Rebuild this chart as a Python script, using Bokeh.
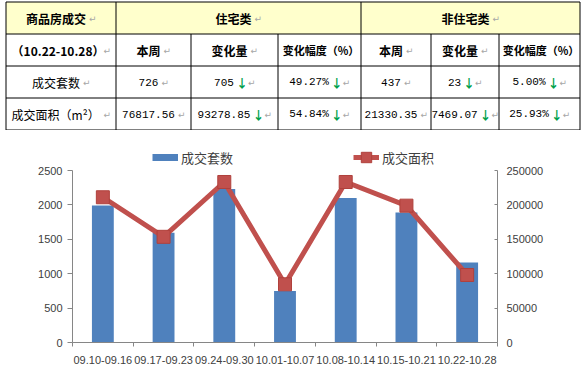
from bokeh.plotting import figure
from bokeh.models import (Range1d, LinearAxis, FixedTicker, BasicTickFormatter,
                          Legend, LegendItem, ColumnDataSource)
from bokeh.layouts import column
from bokeh.embed import file_html
from bokeh.resources import INLINE
from bokeh.core.properties import value

# ---------------- data ----------------
weeks = ["09.10-09.16", "09.17-09.23", "09.24-09.30", "10.01-10.07",
         "10.08-10.14", "10.15-10.21", "10.22-10.28"]
deal_count = [1990, 1594, 2232, 749, 2101, 1891, 1163]          # 成交套数
deal_area = [211100, 153600, 233300, 84600, 233300, 198896, 98148]  # 成交面积
count_ticks = [0, 500, 1000, 1500, 2000, 2500]
area_ticks = [0, 50000, 100000, 150000, 200000, 250000]

table_title = "商品房成交"
table_period = "（10.22-10.28）"
group_names = ["住宅类", "非住宅类"]
col_names = ["本周", "变化量", "变化幅度（%）"]
row_names = ["成交套数", "成交面积（m²）"]
res_week = [726, 76817.56]
res_change = [705, 93278.85]
res_pct = [49.27, 54.84]
nonres_week = [437, 21330.35]
nonres_change = [23, 7469.07]
nonres_pct = [5.00, 25.93]
res_down = [True, True]
nonres_down = [True, True]

# ---------------- table ----------------
W = 582
TH = 130
CH = 238
CJK = "Noto Sans CJK SC"
NUM = "Liberation Mono"

t = figure(width=W, height=TH, x_range=Range1d(0, W), y_range=Range1d(TH, 0),
           toolbar_location=None, output_backend="svg", min_border=0,
           x_axis_location=None, y_axis_location=None)
for g in t.grid:
    g.visible = False
t.outline_line_color = None

bx = [5.5, 115.5, 190.5, 277.5, 360.5, 430.5, 498.5, 579.5]
by = [1.5, 33.5, 65.5, 97.5, 129.5]

t.quad(left=[bx[0], bx[1], bx[4]], right=[bx[1], bx[4], bx[7]],
       top=[by[0]] * 3, bottom=[by[1]] * 3, fill_color="#FFFFCC", line_color=None)

hx0 = [bx[0]] * len(by)
hx1 = [bx[-1]] * len(by)
t.segment(x0=hx0, y0=by, x1=hx1, y1=by, line_color="black", line_width=1)
vxs = [bx[0], bx[1], bx[4], bx[7]]
t.segment(x0=vxs, y0=[by[0]] * 4, x1=vxs, y1=[by[-1]] * 4, line_color="black", line_width=1)
vxs2 = [bx[2], bx[3], bx[5], bx[6]]
t.segment(x0=vxs2, y0=[by[1]] * 4, x1=vxs2, y1=[by[-1]] * 4, line_color="black", line_width=1)


def est_w(s, size, mono=False):
    if mono:
        return 0.6 * size * len(s)
    w = 0.0
    for c in s:
        if ord(c) >= 0x2E80 or c in "（）":
            w += size
        elif c.isdigit():
            w += 0.56 * size
        elif c == ".":
            w += 0.28 * size
        elif c == "-":
            w += 0.36 * size
        elif c == "m":
            w += 0.84 * size
        elif c == "²":
            w += 0.4 * size
        else:
            w += 0.5 * size
    return w


groups = {k: dict(x=[], y=[], text=[]) for k in ("bold", "bold_s", "reg", "num", "arrow", "ret")}
SIZE = {"bold": 12, "bold_s": 11, "reg": 12, "num": 11}


def cell(text, cx, cy, kind, arrow=False, ret=True):
    mw = est_w(text, SIZE[kind], kind == "num")
    total = mw + (11 if arrow else 0) + (10 if ret else 0)
    x0 = cx - total / 2
    groups[kind]["x"].append(x0)
    groups[kind]["y"].append(cy)
    groups[kind]["text"].append(text)
    cur = x0 + mw
    if arrow:
        groups["arrow"]["x"].append(cur + 8)
        groups["arrow"]["y"].append(cy)
        groups["arrow"]["text"].append("↓")
        cur += 11
    if ret:
        groups["ret"]["x"].append(cur + 3)
        groups["ret"]["y"].append(cy + 1)
        groups["ret"]["text"].append("↵")


cy = [(by[i] + by[i + 1]) / 2 for i in range(4)]
cxs = [(bx[i] + bx[i + 1]) / 2 for i in range(7)]

cell(table_title, cxs[0], cy[0], "bold")
cell(group_names[0], (bx[1] + bx[4]) / 2, cy[0], "bold")
cell(group_names[1], (bx[4] + bx[7]) / 2, cy[0], "bold")
cell(table_period, cxs[0], cy[1], "bold")
for gi in range(2):
    for ci, name in enumerate(col_names):
        if ci < 2:
            cell(name, cxs[1 + gi * 3 + ci], cy[1], "bold")
        else:
            cell(name, cxs[1 + gi * 3 + ci] - 1, cy[1], "bold_s", ret=False)


def fmt(v, ri):
    return f"{v:d}" if ri == 0 else f"{v:.2f}"


for ri, rname in enumerate(row_names):
    yy = cy[2 + ri]
    cell(rname, cxs[0], yy, "reg")
    cell(fmt(res_week[ri], ri), cxs[1], yy, "num")
    cell(fmt(res_change[ri], ri), cxs[2], yy, "num", arrow=res_down[ri])
    cell(f"{res_pct[ri]:.2f}%", cxs[3], yy, "num", arrow=res_down[ri])
    cell(fmt(nonres_week[ri], ri), cxs[4], yy, "num")
    cell(fmt(nonres_change[ri], ri), cxs[5], yy, "num", arrow=nonres_down[ri])
    cell(f"{nonres_pct[ri]:.2f}%", cxs[6], yy, "num", arrow=nonres_down[ri])

t.text(x="x", y="y", text="text", source=ColumnDataSource(groups["bold"]),
       text_font=value(CJK), text_font_size="12px", text_font_style="bold",
       text_align="left", text_baseline="middle", text_color="black")
t.text(x="x", y="y", text="text", source=ColumnDataSource(groups["bold_s"]),
       text_font=value(CJK), text_font_size="11px", text_font_style="bold",
       text_align="left", text_baseline="middle", text_color="black")
t.text(x="x", y="y", text="text", source=ColumnDataSource(groups["reg"]),
       text_font=value(CJK), text_font_size="12px",
       text_align="left", text_baseline="middle", text_color="black")
t.text(x="x", y="y", text="text", source=ColumnDataSource(groups["num"]),
       text_font=value(NUM), text_font_size="11px",
       text_align="left", text_baseline="middle", text_color="black")
t.text(x="x", y="y", text="text", source=ColumnDataSource(groups["arrow"]),
       text_font=value(CJK), text_font_size="12px", text_font_style="bold",
       text_align="center", text_baseline="middle", text_color="#00A04A")
t.text(x="x", y="y", text="text", source=ColumnDataSource(groups["ret"]),
       text_font=value("DejaVu Sans"), text_font_size="9px",
       text_align="left", text_baseline="middle", text_color="#A6A6A6")

# ---------------- chart ----------------
n = len(weeks)
xs = list(range(1, n + 1))
src = ColumnDataSource(dict(x=xs, week=weeks, count=deal_count, area=deal_area))

B_TOP, B_BOT, B_LEFT, B_RIGHT = 15, 26, 72, 85
FRAME_H = CH - B_TOP - B_BOT     # 197
PLOT_H = 172                      # pixels spanned by 0..max tick
top_factor = FRAME_H / PLOT_H

p = figure(width=W, height=CH, x_range=Range1d(0.5, n + 0.5),
           y_range=Range1d(count_ticks[0], count_ticks[-1] * top_factor),
           toolbar_location=None, output_backend="svg",
           min_border_left=B_LEFT, min_border_right=B_RIGHT, min_border_top=B_TOP,
           min_border_bottom=B_BOT)
p.extra_y_ranges = {"area": Range1d(area_ticks[0], area_ticks[-1] * top_factor)}
p.xgrid.visible = False
p.ygrid.visible = False
p.outline_line_color = None

for fig in (t, p):
    try:
        fig.frame_align = False
    except Exception:
        pass

bars = p.vbar(x="x", top="count", width=0.36, source=src,
              fill_color="#4F81BD", line_color=None)
ln = p.line(x="x", y="area", source=src, y_range_name="area",
            line_color="#C0504D", line_width=5)
mk = p.scatter(x="x", y="area", source=src, y_range_name="area", marker="square",
               size=13, fill_color="#C0504D", line_color="#B0403C")
# legend key for the bar series (a wide, flat swatch like the reference); draws nothing in the plot
bar_key = p.line(x=[float("nan")], y=[float("nan")], line_color="#4F81BD", line_width=7)

AX = "#868686"
LBL = "#404040"
xa = p.xaxis[0]
xa.ticker = FixedTicker(ticks=xs, minor_ticks=[x - 0.5 for x in xs] + [n + 0.5])
xa.major_label_overrides = {x: w for x, w in zip(xs, weeks)}
xa.major_tick_out = 0
xa.major_tick_in = 0
xa.minor_tick_out = 4
xa.minor_tick_in = 0
xa.minor_tick_line_color = AX
xa.axis_line_color = AX
xa.major_label_standoff = 9
xa.major_label_text_font = "Liberation Sans"
xa.major_label_text_font_size = "11px"
xa.major_label_text_color = LBL

ya = p.yaxis[0]
ya.ticker = FixedTicker(ticks=count_ticks)
ya.bounds = (count_ticks[0], count_ticks[-1])
ya.major_tick_out = 5
ya.major_tick_in = 0
ya.minor_tick_out = 0
ya.minor_tick_in = 0
ya.axis_line_color = AX
ya.major_tick_line_color = AX
ya.major_label_standoff = 5
ya.major_label_text_font = "Liberation Sans"
ya.major_label_text_font_size = "11px"
ya.major_label_text_color = LBL

ra = LinearAxis(y_range_name="area", ticker=FixedTicker(ticks=area_ticks),
                formatter=BasicTickFormatter(use_scientific=False),
                bounds=(area_ticks[0], area_ticks[-1]))
ra.major_tick_out = 0
ra.major_tick_in = 3
ra.minor_tick_out = 0
ra.minor_tick_in = 0
ra.axis_line_color = AX
ra.major_tick_line_color = AX
ra.major_label_standoff = 9
ra.major_label_text_font = "Liberation Sans"
ra.major_label_text_font_size = "11px"
ra.major_label_text_color = LBL
p.add_layout(ra, "right")

leg = Legend(items=[LegendItem(label="成交套数", renderers=[bar_key]),
                    LegendItem(label="成交面积", renderers=[ln, mk])],
             location=(80, 172), orientation="horizontal", padding=0, margin=0,
             spacing=120, label_standoff=3, glyph_width=26, glyph_height=26,
             border_line_color=None, background_fill_alpha=0,
             label_text_font=CJK, label_text_font_size="13px",
             label_text_color="#404040")
p.add_layout(leg)

layout = column(t, p, spacing=0)
open("out.html", "w").write(file_html(layout, INLINE))
